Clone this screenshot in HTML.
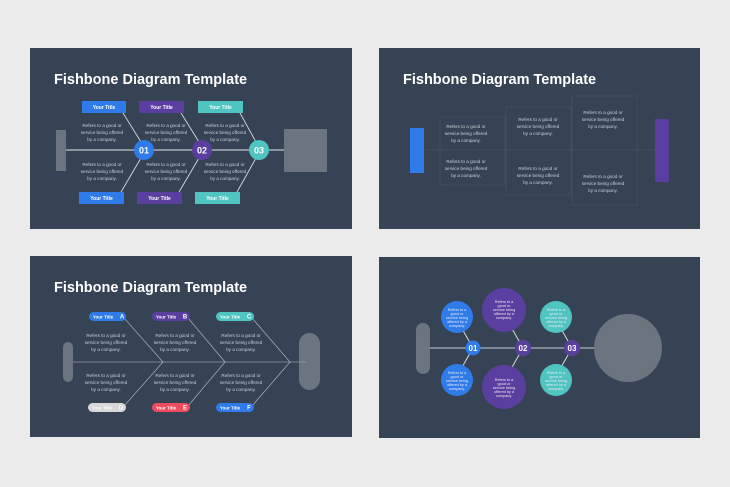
<!DOCTYPE html>
<html><head><meta charset="utf-8"><style>
html,body{margin:0;padding:0;background:#ebebeb;}
svg{display:block;font-family:"Liberation Sans",sans-serif;}
.t{fill:#fff;font-weight:bold;font-size:14.5px;}
.s{fill:#c9ced6;font-size:4.6px;text-anchor:middle;}
.b{fill:#fff;font-weight:bold;font-size:5px;text-anchor:middle;}
</style></head><body>
<svg width="730" height="487" viewBox="0 0 730 487">
<rect width="730" height="487" fill="#ebebeb"/>
<!-- Slide 1 -->
<rect x="30" y="48" width="322" height="181" fill="#364355"/>
<text x="54" y="84" class="t">Fishbone Diagram Template</text>
<rect x="56" y="130" width="10" height="41" fill="#6b7580"/>
<rect x="284" y="129" width="43" height="43" fill="#6b7580"/>
<line x1="66" y1="150" x2="284" y2="150" stroke="#aab1ba" stroke-width="1.5"/>
<g stroke="#d5d9de" stroke-width="0.9">
<line x1="123" y1="113" x2="141" y2="142"/><line x1="141" y1="158" x2="121" y2="192"/>
<line x1="181" y1="113" x2="199" y2="142"/><line x1="199" y1="158" x2="179" y2="192"/>
<line x1="240" y1="113" x2="256" y2="142"/><line x1="256" y1="158" x2="237" y2="192"/>
</g>
<rect x="82" y="101" width="44" height="12" fill="#2f7bea"/><text x="104" y="109" class="b">Your Title</text>
<rect x="139" y="101" width="45" height="12" fill="#5b3fa0"/><text x="161.5" y="109" class="b">Your Title</text>
<rect x="198" y="101" width="45" height="12" fill="#4fc4c0"/><text x="220.5" y="109" class="b">Your Title</text>
<rect x="79" y="192" width="45" height="12" fill="#2f7bea"/><text x="101.5" y="200" class="b">Your Title</text>
<rect x="137" y="192" width="45" height="12" fill="#5b3fa0"/><text x="159.5" y="200" class="b">Your Title</text>
<rect x="195" y="192" width="45" height="12" fill="#4fc4c0"/><text x="217.5" y="200" class="b">Your Title</text>
<circle cx="144" cy="150" r="10" fill="#2f7bea"/><text x="144" y="153.5" class="b" style="font-size:9px">01</text>
<circle cx="202" cy="150" r="10" fill="#5b3fa0"/><text x="202" y="153.5" class="b" style="font-size:9px">02</text>
<circle cx="259" cy="150" r="10" fill="#4fc4c0"/><text x="259" y="153.5" class="b" style="font-size:9px">03</text>
<g class="s">
<text x="102" y="127">Refers to a good or</text><text x="102" y="134">service being offered</text><text x="102" y="141">by a company.</text>
<text x="102" y="166">Refers to a good or</text><text x="102" y="173">service being offered</text><text x="102" y="180">by a company.</text>
<text x="166" y="127">Refers to a good or</text><text x="166" y="134">service being offered</text><text x="166" y="141">by a company.</text>
<text x="166" y="166">Refers to a good or</text><text x="166" y="173">service being offered</text><text x="166" y="180">by a company.</text>
<text x="225" y="127">Refers to a good or</text><text x="225" y="134">service being offered</text><text x="225" y="141">by a company.</text>
<text x="225" y="166">Refers to a good or</text><text x="225" y="173">service being offered</text><text x="225" y="180">by a company.</text>
</g>
<!-- Slide 2 -->
<rect x="379" y="48" width="321" height="181" fill="#364355"/>
<text x="403" y="84" class="t">Fishbone Diagram Template</text>
<line x1="424" y1="150" x2="655" y2="150" stroke="#465365" stroke-width="0.8"/>
<g fill="none" stroke="#465365" stroke-width="0.7">
<rect x="440" y="117" width="65" height="68"/><rect x="506" y="107" width="65" height="88"/><rect x="572" y="96" width="65" height="109"/>
</g>
<rect x="410" y="128" width="14" height="45" fill="#2f7bea"/>
<rect x="655" y="119" width="14" height="63" fill="#5b3fa0"/>
<g class="s">
<text x="466" y="128">Refers to a good or</text><text x="466" y="135">service being offered</text><text x="466" y="142">by a company.</text>
<text x="466" y="163">Refers to a good or</text><text x="466" y="170">service being offered</text><text x="466" y="177">by a company.</text>
<text x="538" y="121">Refers to a good or</text><text x="538" y="128">service being offered</text><text x="538" y="135">by a company.</text>
<text x="538" y="170">Refers to a good or</text><text x="538" y="177">service being offered</text><text x="538" y="184">by a company.</text>
<text x="603" y="114">Refers to a good or</text><text x="603" y="121">service being offered</text><text x="603" y="128">by a company.</text>
<text x="603" y="178">Refers to a good or</text><text x="603" y="185">service being offered</text><text x="603" y="192">by a company.</text>
</g>
<!-- Slide 3 -->
<rect x="30" y="256" width="322" height="181" fill="#364355"/>
<text x="54" y="292" class="t">Fishbone Diagram Template</text>
<rect x="63" y="342" width="10" height="40" rx="5" fill="#6b7580"/>
<rect x="299" y="333" width="21" height="57" rx="10.5" fill="#6b7580"/>
<line x1="73" y1="362" x2="306" y2="362" stroke="#8f98a4" stroke-width="0.8"/>
<g stroke="#aab1ba" stroke-width="0.7" fill="none">
<polyline points="124,318 163,362 124,406"/><polyline points="188,318 225,362 188,406"/><polyline points="252,318 290,362 252,406"/>
</g>
<g>
<rect x="89" y="312" width="37" height="9" rx="4.5" fill="#2f7bea"/><text x="103" y="318.5" class="b" style="font-size:4.5px">Your Title</text><text x="122" y="318.5" class="b" style="font-size:6px">A</text>
<rect x="152" y="312" width="38" height="9" rx="4.5" fill="#5b3fa0"/><text x="166" y="318.5" class="b" style="font-size:4.5px">Your Title</text><text x="185" y="318.5" class="b" style="font-size:6px">B</text>
<rect x="216" y="312" width="38" height="9" rx="4.5" fill="#4fc4c0"/><text x="230" y="318.5" class="b" style="font-size:4.5px">Your Title</text><text x="249" y="318.5" class="b" style="font-size:6px">C</text>
<rect x="88" y="403" width="38" height="9" rx="4.5" fill="#d7d7d7"/><text x="102" y="409.5" class="b" style="font-size:4.5px">Your Title</text><text x="121" y="409.5" class="b" style="font-size:6px">D</text>
<rect x="152" y="403" width="38" height="9" rx="4.5" fill="#ee4d5f"/><text x="166" y="409.5" class="b" style="font-size:4.5px">Your Title</text><text x="185" y="409.5" class="b" style="font-size:6px">E</text>
<rect x="216" y="403" width="38" height="9" rx="4.5" fill="#2f7bea"/><text x="230" y="409.5" class="b" style="font-size:4.5px">Your Title</text><text x="249" y="409.5" class="b" style="font-size:6px">F</text>
</g>
<g class="s">
<text x="106" y="337">Refers to a good or</text><text x="106" y="344">service being offered</text><text x="106" y="351">by a company.</text>
<text x="106" y="377">Refers to a good or</text><text x="106" y="384">service being offered</text><text x="106" y="391">by a company.</text>
<text x="175" y="337">Refers to a good or</text><text x="175" y="344">service being offered</text><text x="175" y="351">by a company.</text>
<text x="175" y="377">Refers to a good or</text><text x="175" y="384">service being offered</text><text x="175" y="391">by a company.</text>
<text x="241" y="337">Refers to a good or</text><text x="241" y="344">service being offered</text><text x="241" y="351">by a company.</text>
<text x="241" y="377">Refers to a good or</text><text x="241" y="384">service being offered</text><text x="241" y="391">by a company.</text>
</g>
<!-- Slide 4 -->
<rect x="379" y="257" width="321" height="181" fill="#364355"/>
<rect x="416" y="323" width="14" height="51" rx="7" fill="#6b7580"/>
<circle cx="628" cy="348" r="34" fill="#6b7580"/>
<line x1="430" y1="348" x2="594" y2="348" stroke="#aab1ba" stroke-width="1.3"/>
<g stroke="#d5d9de" stroke-width="1">
<line x1="473" y1="348" x2="461" y2="327"/><line x1="473" y1="348" x2="461" y2="369"/>
<line x1="523" y1="348" x2="511" y2="327"/><line x1="523" y1="348" x2="511" y2="369"/>
<line x1="572" y1="348" x2="560" y2="327"/><line x1="572" y1="348" x2="560" y2="369"/>
</g>
<circle cx="457" cy="317" r="16" fill="#2f7bea"/><circle cx="457" cy="380" r="16" fill="#2f7bea"/>
<circle cx="504" cy="310" r="22" fill="#5b3fa0"/><circle cx="504" cy="387" r="22" fill="#5b3fa0"/>
<circle cx="556" cy="317" r="16" fill="#4fc4c0"/><circle cx="556" cy="380" r="16" fill="#4fc4c0"/>
<circle cx="473" cy="348" r="7.5" fill="#2f7bea"/><text x="473" y="351" class="b" style="font-size:8px">01</text>
<circle cx="523" cy="348" r="8" fill="#5b3fa0"/><text x="523" y="351" class="b" style="font-size:8px">02</text>
<circle cx="572" cy="348" r="8" fill="#5b3fa0"/><text x="572" y="351" class="b" style="font-size:8px">03</text>
<g class="s" style="fill:#e6e9ef;font-size:3.8px">
<text x="457" y="311">Refers to a</text><text x="457" y="315">good or</text><text x="457" y="319">service being</text><text x="457" y="323">offered by a</text><text x="457" y="327">company.</text>
<text x="457" y="374">Refers to a</text><text x="457" y="378">good or</text><text x="457" y="382">service being</text><text x="457" y="386">offered by a</text><text x="457" y="390">company.</text>
<text x="504" y="303">Refers to a</text><text x="504" y="307">good or</text><text x="504" y="311">service being</text><text x="504" y="315">offered by a</text><text x="504" y="319">company.</text>
<text x="504" y="381">Refers to a</text><text x="504" y="385">good or</text><text x="504" y="389">service being</text><text x="504" y="393">offered by a</text><text x="504" y="397">company.</text>
<text x="556" y="311">Refers to a</text><text x="556" y="315">good or</text><text x="556" y="319">service being</text><text x="556" y="323">offered by a</text><text x="556" y="327">company.</text>
<text x="556" y="374">Refers to a</text><text x="556" y="378">good or</text><text x="556" y="382">service being</text><text x="556" y="386">offered by a</text><text x="556" y="390">company.</text>
</g>
</svg>
</body></html>
